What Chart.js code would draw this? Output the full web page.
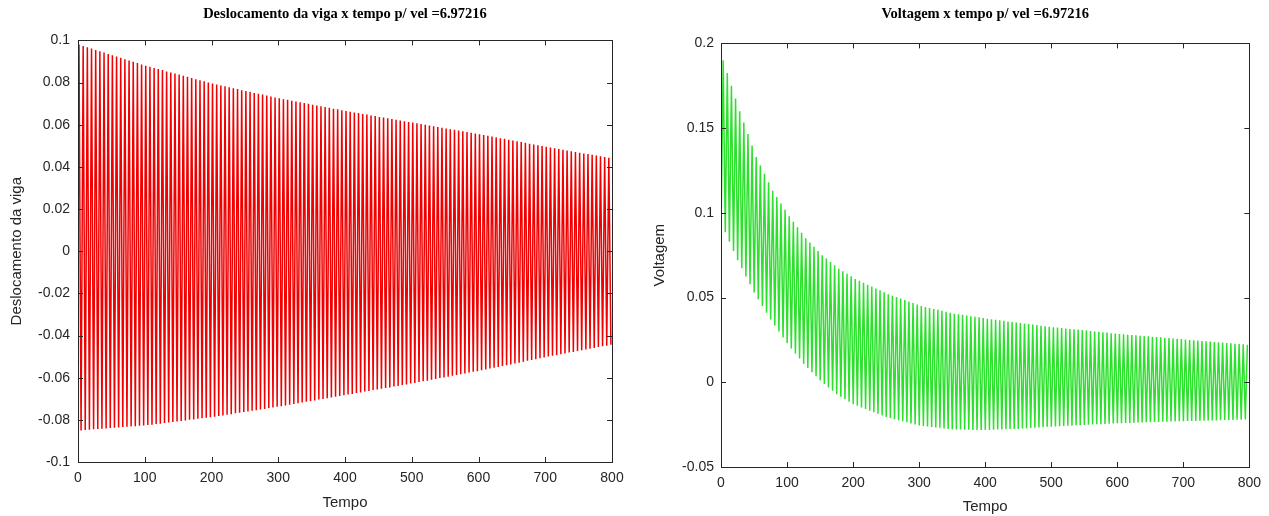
<!DOCTYPE html>
<html>
<head>
<meta charset="utf-8">
<script src="https://cdn.jsdelivr.net/npm/chart.js@4.4.0/dist/chart.umd.min.js"></script>
<style>
  body { margin: 0; background: #fff; width: 1269px; height: 516px; overflow: hidden; }
  #left { position: absolute; left: 0; top: 0; }
  #right { position: absolute; left: 640px; top: 0; }
</style>
</head>
<body>
<canvas id="left" width="640" height="516"></canvas>
<canvas id="right" width="629" height="516"></canvas>
<script>
// one peak per cycle (period ~6.25 time units)
const period = 6.25;

const deslocMax = [
  0.0980, 0.0974, 0.0968, 0.0961, 0.0955, 0.0949, 0.0943, 0.0936, 0.0930, 0.0924, 0.0918, 0.0911, 0.0905, 0.0899, 0.0893, 0.0886,
  0.0880, 0.0875, 0.0869, 0.0864, 0.0859, 0.0853, 0.0848, 0.0843, 0.0838, 0.0832, 0.0827, 0.0822, 0.0816, 0.0811, 0.0806, 0.0800,
  0.0795, 0.0791, 0.0786, 0.0782, 0.0778, 0.0773, 0.0769, 0.0764, 0.0760, 0.0756, 0.0751, 0.0747, 0.0743, 0.0738, 0.0734, 0.0729,
  0.0725, 0.0721, 0.0718, 0.0714, 0.0710, 0.0706, 0.0703, 0.0699, 0.0695, 0.0691, 0.0688, 0.0684, 0.0680, 0.0676, 0.0673, 0.0669,
  0.0665, 0.0662, 0.0658, 0.0655, 0.0651, 0.0648, 0.0644, 0.0641, 0.0637, 0.0634, 0.0631, 0.0627, 0.0624, 0.0620, 0.0617, 0.0613,
  0.0610, 0.0607, 0.0603, 0.0600, 0.0596, 0.0593, 0.0589, 0.0586, 0.0582, 0.0579, 0.0576, 0.0572, 0.0569, 0.0565, 0.0562, 0.0558,
  0.0555, 0.0551, 0.0548, 0.0544, 0.0540, 0.0536, 0.0533, 0.0529, 0.0525, 0.0521, 0.0518, 0.0514, 0.0510, 0.0506, 0.0503, 0.0499,
  0.0495, 0.0492, 0.0488, 0.0485, 0.0481, 0.0478, 0.0474, 0.0471, 0.0467, 0.0464, 0.0461, 0.0457, 0.0454, 0.0450, 0.0447, 0.0443
];
const deslocMin = [
  -0.0850, -0.0848, -0.0847, -0.0845, -0.0844, -0.0842, -0.0841, -0.0839, -0.0838, -0.0836, -0.0834, -0.0833, -0.0831, -0.0830, -0.0828, -0.0827,
  -0.0825, -0.0823, -0.0820, -0.0818, -0.0815, -0.0813, -0.0810, -0.0808, -0.0805, -0.0803, -0.0800, -0.0798, -0.0795, -0.0793, -0.0790, -0.0788,
  -0.0785, -0.0782, -0.0779, -0.0776, -0.0773, -0.0769, -0.0766, -0.0763, -0.0760, -0.0757, -0.0754, -0.0751, -0.0748, -0.0744, -0.0741, -0.0738,
  -0.0735, -0.0732, -0.0728, -0.0725, -0.0721, -0.0718, -0.0714, -0.0711, -0.0708, -0.0704, -0.0701, -0.0697, -0.0694, -0.0690, -0.0687, -0.0683,
  -0.0680, -0.0677, -0.0673, -0.0670, -0.0666, -0.0663, -0.0659, -0.0656, -0.0653, -0.0649, -0.0646, -0.0642, -0.0639, -0.0635, -0.0632, -0.0628,
  -0.0625, -0.0621, -0.0617, -0.0614, -0.0610, -0.0606, -0.0602, -0.0599, -0.0595, -0.0591, -0.0587, -0.0584, -0.0580, -0.0576, -0.0572, -0.0569,
  -0.0565, -0.0561, -0.0557, -0.0553, -0.0549, -0.0545, -0.0541, -0.0537, -0.0533, -0.0529, -0.0525, -0.0520, -0.0516, -0.0512, -0.0508, -0.0504,
  -0.0500, -0.0496, -0.0493, -0.0489, -0.0485, -0.0481, -0.0478, -0.0474, -0.0470, -0.0466, -0.0463, -0.0459, -0.0455, -0.0451, -0.0448, -0.0444
];

const voltMax = [
  0.1900, 0.1825, 0.1750, 0.1675, 0.1600, 0.1533, 0.1465, 0.1398,
  0.1330, 0.1280, 0.1230, 0.1180, 0.1130, 0.1093, 0.1055, 0.1018,
  0.0980, 0.0948, 0.0915, 0.0883, 0.0850, 0.0825, 0.0800, 0.0775,
  0.0750, 0.0730, 0.0710, 0.0690, 0.0670, 0.0655, 0.0640, 0.0625,
  0.0610, 0.0599, 0.0588, 0.0576, 0.0565, 0.0554, 0.0543, 0.0531,
  0.0520, 0.0511, 0.0503, 0.0494, 0.0485, 0.0476, 0.0468, 0.0459,
  0.0450, 0.0444, 0.0439, 0.0433, 0.0428, 0.0422, 0.0416, 0.0411,
  0.0405, 0.0401, 0.0398, 0.0394, 0.0390, 0.0386, 0.0383, 0.0379,
  0.0375, 0.0372, 0.0369, 0.0366, 0.0363, 0.0359, 0.0356, 0.0353,
  0.0350, 0.0347, 0.0344, 0.0341, 0.0338, 0.0334, 0.0331, 0.0328,
  0.0325, 0.0323, 0.0320, 0.0318, 0.0315, 0.0313, 0.0310, 0.0308, 0.0305, 0.0303, 0.0300, 0.0298, 0.0295, 0.0293, 0.0290, 0.0288,
  0.0285, 0.0283, 0.0281, 0.0279, 0.0277, 0.0275, 0.0273, 0.0271, 0.0269, 0.0267, 0.0265, 0.0263, 0.0261, 0.0259, 0.0257, 0.0255,
  0.0252, 0.0250, 0.0248, 0.0246, 0.0244, 0.0242, 0.0240, 0.0238, 0.0236, 0.0234, 0.0232, 0.0230, 0.0228, 0.0226, 0.0224, 0.0222
];
const voltMin = [
  0.0940, 0.0885, 0.0830, 0.0775, 0.0720, 0.0673, 0.0625, 0.0578,
  0.0530, 0.0490, 0.0450, 0.0410, 0.0370, 0.0335, 0.0300, 0.0265,
  0.0230, 0.0200, 0.0170, 0.0140, 0.0110, 0.0085, 0.0060, 0.0035,
  0.0010, -0.0010, -0.0030, -0.0050, -0.0070, -0.0085, -0.0100, -0.0115,
  -0.0130, -0.0139, -0.0149, -0.0158, -0.0168, -0.0177, -0.0186, -0.0196,
  -0.0205, -0.0211, -0.0218, -0.0224, -0.0230, -0.0236, -0.0243, -0.0249,
  -0.0255, -0.0258, -0.0261, -0.0264, -0.0267, -0.0269, -0.0272, -0.0275,
  -0.0278, -0.0279, -0.0279, -0.0280, -0.0280, -0.0281, -0.0281, -0.0282,
  -0.0282, -0.0281, -0.0280, -0.0279, -0.0278, -0.0277, -0.0276, -0.0276,
  -0.0275, -0.0273, -0.0272, -0.0270, -0.0268, -0.0267, -0.0265, -0.0263,
  -0.0262, -0.0261, -0.0259, -0.0258, -0.0257, -0.0256, -0.0254, -0.0253, -0.0252, -0.0251, -0.0249, -0.0248, -0.0247, -0.0246, -0.0244, -0.0243,
  -0.0242, -0.0241, -0.0240, -0.0240, -0.0239, -0.0238, -0.0237, -0.0236, -0.0236, -0.0235, -0.0234, -0.0233, -0.0233, -0.0232, -0.0231, -0.0230,
  -0.0230, -0.0229, -0.0229, -0.0228, -0.0227, -0.0227, -0.0226, -0.0225, -0.0225, -0.0224, -0.0223, -0.0223, -0.0222, -0.0221, -0.0221, -0.0220
];

const xTicks = [0, 100, 200, 300, 400, 500, 600, 700, 800];
const deslocTicks = [-0.1, -0.08, -0.06, -0.04, -0.02, 0, 0.02, 0.04, 0.06, 0.08, 0.1];
const voltTicks = [-0.05, 0, 0.05, 0.1, 0.15, 0.2];

// build the oscillation: high then low inside each cycle
function desloc() {
  const pts = [{ x: 0, y: 0 }];
  deslocMax.forEach((v, k) => {
    pts.push({ x: k * period + 1.5, y: v });
    pts.push({ x: k * period + 4.6, y: deslocMin[k] });
  });
  return pts;
}
function volt() {
  const pts = [];
  voltMin.forEach((v, k) => {
    pts.push({ x: k * period + 0.2, y: v });
    pts.push({ x: k * period + 3.3, y: voltMax[k] });
  });
  return pts;
}

const axisColor = '#262626';

// matlab-like tick text: 0.1, 0.08, -0.05 ...
const fmt = v => String(parseFloat(Number(v).toFixed(4)));

// MATLAB style box with ticks inside on all four sides
const boxPlugin = {
  id: 'box',
  afterDraw(chart) {
    const ctx = chart.ctx;
    const a = chart.chartArea;
    const xs = chart.scales.x, ys = chart.scales.y;
    ctx.save();
    ctx.strokeStyle = axisColor;
    ctx.lineWidth = 1;
    ctx.strokeRect(Math.round(a.left) + 0.5, Math.round(a.top) + 0.5, Math.round(a.right - a.left), Math.round(a.bottom - a.top));
    ctx.beginPath();
    xs.ticks.forEach(t => {
      const px = Math.round(xs.getPixelForValue(t.value)) + 0.5;
      ctx.moveTo(px, a.bottom); ctx.lineTo(px, a.bottom - 5);
      ctx.moveTo(px, a.top); ctx.lineTo(px, a.top + 5);
    });
    ys.ticks.forEach(t => {
      const py = Math.round(ys.getPixelForValue(t.value)) + 0.5;
      ctx.moveTo(a.left, py); ctx.lineTo(a.left + 5, py);
      ctx.moveTo(a.right, py); ctx.lineTo(a.right - 5, py);
    });
    ctx.stroke();
    ctx.restore();
  }
};

function makeChart(id, cfg) {
  return new Chart(document.getElementById(id), {
    type: 'line',
    data: {
      datasets: [{
        data: cfg.data,
        borderColor: cfg.color,
        borderWidth: 1.5,
        pointRadius: 0,
        tension: 0,
        fill: false
      }]
    },
    options: {
      responsive: false,
      animation: false,
      layout: { padding: { right: cfg.padRight, left: 0, top: 0, bottom: 0 } },
      plugins: {
        legend: { display: false },
        tooltip: { enabled: false },
        title: {
          display: true,
          text: cfg.title,
          fullSize: false,
          color: '#000',
          font: { family: 'Liberation Serif', size: 14.5, weight: 'bold' },
          padding: { top: 6, bottom: cfg.titleGap }
        }
      },
      scales: {
        x: {
          type: 'linear',
          min: 0, max: 800,
          afterBuildTicks: s => { s.ticks = xTicks.map(v => ({ value: v })); },
          afterFit: s => { s.height = cfg.xHeight; },
          grid: { display: false, drawTicks: false },
          border: { display: false },
          ticks: { color: axisColor, padding: 8, font: { family: 'Liberation Sans', size: 14 }, callback: fmt },
          title: { display: true, text: 'Tempo', color: axisColor, padding: { top: 0, bottom: cfg.xTitlePad }, font: { family: 'Liberation Sans', size: 15 } }
        },
        y: {
          min: cfg.yTicks[0], max: cfg.yTicks[cfg.yTicks.length - 1],
          afterBuildTicks: s => { s.ticks = cfg.yTicks.map(v => ({ value: v })); },
          afterFit: s => { s.width = cfg.yWidth; },
          grid: { display: false, drawTicks: false },
          border: { display: false },
          ticks: { color: axisColor, padding: cfg.yTickPad, font: { family: 'Liberation Sans', size: 14 }, callback: fmt },
          title: { display: true, text: cfg.yLabel, color: axisColor, padding: { top: cfg.yTitlePad, bottom: 0 }, font: { family: 'Liberation Sans', size: 15 } }
        }
      }
    },
    plugins: [boxPlugin]
  });
}

makeChart('left', {
  data: desloc(),
  color: '#f00000',
  title: 'Deslocamento da viga x tempo p/ vel =6.97216',
  yLabel: 'Deslocamento da viga',
  yTicks: deslocTicks,
  padRight: 28,
  titleGap: 17,
  xHeight: 54,
  xTitlePad: 4,
  yWidth: 78,
  yTickPad: 8,
  yTitlePad: 8
});

makeChart('right', {
  data: volt(),
  color: '#2ee02e',
  title: 'Voltagem x tempo p/ vel =6.97216',
  yLabel: 'Voltagem',
  yTicks: voltTicks,
  padRight: 14,
  titleGap: 20,
  xHeight: 49,
  xTitlePad: 0,
  yWidth: 81,
  yTickPad: 7,
  yTitlePad: 11
});
</script>
</body>
</html>
